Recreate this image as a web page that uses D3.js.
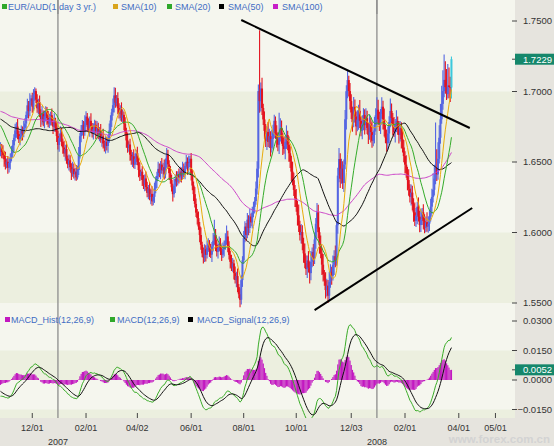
<!DOCTYPE html>
<html><head><meta charset="utf-8">
<script src="https://cdn.jsdelivr.net/npm/d3@7"></script>
<style>
html,body{margin:0;padding:0;background:#fff;}
svg{display:block;font-family:"Liberation Sans",Arial,sans-serif;}
</style></head><body>
<svg id="chart" width="554" height="446"></svg>
<script>
// EUR/AUD daily bars, 26 Oct 2006 - 26 Mar 2008
const firstDate = "2006-10-26";
const lastDate = "2008-03-26";
const axisEndDate = "2008-06-20";

// closes before the first drawn bar (warm-up for the moving averages and MACD)
const priorCloses = [
1.6882,1.6913,1.6951,1.6922,1.6894,1.6861,1.6903,1.6942,1.6973,1.6931,
1.6902,1.6874,1.6843,1.6881,1.6922,1.6963,1.6991,1.7012,1.6972,1.6933,
1.6901,1.6862,1.6893,1.6931,1.6952,1.6914,1.6883,1.6852,1.6891,1.6922,
1.6951,1.6983,1.6942,1.6903,1.6871,1.6842,1.6873,1.6912,1.6944,1.6921,
1.6893,1.6862,1.6901,1.6943,1.6972,1.6931,1.6902,1.6881,1.6923,1.6954,
1.6982,1.6951,1.6913,1.6884,1.6852,1.6891,1.6932,1.6963,1.6921,1.6882,
1.6851,1.6823,1.6862,1.6841,1.6803,1.6782,1.6821,1.6863,1.6832,1.6791,
1.6762,1.6801,1.6843,1.6872,1.6831,1.6802,1.6841,1.6883,1.6852,1.6813,
1.6784,1.6822,1.6861,1.6832,1.6803,1.6841,1.6872,1.6851,1.6893,1.6862,
1.6881,1.6912,1.6873,1.6904,1.6941,1.6902,1.6863,1.6892,1.6921,1.6883,
1.6852,1.6823,1.6751,1.6693,1.6642,1.6583,1.6541,1.6512,1.6533,1.6571];

const closes = [
1.6602,1.6571,1.6548,1.6519,1.6483,1.6502,1.6459,1.6494,1.6531,1.6563,
1.6618,1.6672,1.6724,1.6751,1.6698,1.6662,1.6684,1.6723,1.6701,1.6742,
1.6773,1.6834,1.6902,1.6861,1.6933,1.6951,1.6893,1.6982,1.7003,1.6942,
1.6881,1.6924,1.6843,1.6801,1.6843,1.6782,1.6824,1.6861,1.6812,1.6773,
1.6804,1.6832,1.6783,1.6751,1.6792,1.6743,1.6684,1.6621,1.6672,1.6703,
1.6642,1.6603,1.6561,1.6592,1.6524,1.6483,1.6512,1.6463,1.6421,1.6452,
1.6414,1.6432,1.6391,1.6443,1.6552,1.6683,1.6721,1.6762,1.6713,1.6781,
1.6822,1.6763,1.6731,1.6792,1.6754,1.6702,1.6733,1.6764,1.6712,1.6741,
1.6692,1.6723,1.6661,1.6682,1.6631,1.6603,1.6642,1.6614,1.6662,1.6723,
1.6794,1.6852,1.6903,1.6972,1.6921,1.6953,1.6882,1.6841,1.6873,1.6812,
1.6834,1.6771,1.6712,1.6653,1.6601,1.6624,1.6552,1.6513,1.6541,1.6482,
1.6523,1.6562,1.6501,1.6443,1.6402,1.6431,1.6372,1.6341,1.6383,1.6322,
1.6281,1.6312,1.6253,1.6274,1.6221,1.6253,1.6312,1.6363,1.6402,1.6451,
1.6423,1.6482,1.6441,1.6463,1.6412,1.6503,1.6552,1.6483,1.6421,1.6372,
1.6321,1.6272,1.6333,1.6381,1.6362,1.6413,1.6391,1.6432,1.6403,1.6451,
1.6422,1.6473,1.6502,1.6461,1.6492,1.6523,1.6412,1.6333,1.6272,1.6203,
1.6141,1.6102,1.6043,1.5982,1.5913,1.5852,1.5823,1.5881,1.5842,1.5893,
1.5921,1.5872,1.5843,1.5901,1.5942,1.5983,1.5912,1.5863,1.5891,1.5922,
1.5871,1.5843,1.5882,1.5913,1.5941,1.5972,1.5903,1.5841,1.5792,1.5753,
1.5781,1.5712,1.5663,1.5691,1.5613,1.5562,1.5523,1.5662,1.5803,1.5961,
1.6042,1.5983,1.6091,1.6032,1.6113,1.6072,1.6141,1.6182,1.6223,1.6312,
1.6453,1.7003,1.6932,1.7021,1.6883,1.6802,1.6721,1.6652,1.6713,1.6642,
1.6683,1.6602,1.6663,1.6721,1.6792,1.6703,1.6662,1.6623,1.6682,1.6741,
1.6672,1.6613,1.6592,1.6643,1.6691,1.6623,1.6562,1.6503,1.6432,1.6371,
1.6302,1.6243,1.6181,1.6122,1.6053,1.5982,1.6003,1.5921,1.5852,1.5783,
1.5741,1.5802,1.5751,1.5712,1.5793,1.5862,1.5823,1.5951,1.6062,1.6143,
1.6002,1.5913,1.5851,1.5772,1.5703,1.5661,1.5592,1.5623,1.5552,1.5651,
1.5722,1.5693,1.5771,1.5832,1.5803,1.6052,1.6403,1.6521,1.6382,1.6453,
1.6351,1.6482,1.6803,1.7002,1.7081,1.7003,1.6932,1.6851,1.6782,1.6891,
1.6823,1.6752,1.6801,1.6863,1.6792,1.6721,1.6772,1.6833,1.6762,1.6811,
1.6742,1.6691,1.6773,1.6712,1.6651,1.6692,1.6763,1.6832,1.6871,1.6803,
1.6762,1.6841,1.6892,1.6803,1.6731,1.6672,1.6633,1.6702,1.6783,1.6862,
1.6812,1.6753,1.6711,1.6762,1.6791,1.6733,1.6692,1.6741,1.6662,1.6603,
1.6542,1.6481,1.6423,1.6372,1.6311,1.6252,1.6283,1.6202,1.6143,1.6082,
1.6121,1.6183,1.6112,1.6053,1.6092,1.6143,1.6081,1.6032,1.6073,1.6042,
1.6063,1.6112,1.6183,1.6252,1.6303,1.6382,1.6461,1.6412,1.6523,1.6672,
1.6803,1.6912,1.7003,1.7082,1.7031,1.6982,1.7043,1.7032,1.7028,1.7229];

const highs = [
1.6640,1.6627,1.6618,1.6579,1.6573,1.6524,1.6543,1.6529,1.6560,1.6613,
1.6656,1.6697,1.6771,1.6782,1.6805,1.6720,1.6725,1.6758,1.6752,1.6792,
1.6811,1.6859,1.6949,1.6933,1.6987,1.6973,1.6992,1.7017,1.7030,1.7021,
1.6980,1.6949,1.6971,1.6874,1.6897,1.6865,1.6865,1.6896,1.6890,1.6862,
1.6842,1.6857,1.6879,1.6814,1.6846,1.6814,1.6784,1.6719,1.6701,1.6753,
1.6741,1.6667,1.6650,1.6623,1.6646,1.6546,1.6553,1.6547,1.6492,1.6502,
1.6490,1.6457,1.6479,1.6474,1.6606,1.6705,1.6762,1.6797,1.6791,1.6831,
1.6860,1.6847,1.6810,1.6823,1.6846,1.6776,1.6774,1.6799,1.6793,1.6791,
1.6779,1.6748,1.6770,1.6713,1.6736,1.6653,1.6683,1.6677,1.6691,1.6773,
1.6832,1.6877,1.6950,1.7030,1.7026,1.6975,1.6994,1.6917,1.6902,1.6923,
1.6872,1.6859,1.6818,1.6743,1.6707,1.6646,1.6665,1.6587,1.6570,1.6591,
1.6561,1.6587,1.6609,1.6532,1.6497,1.6453,1.6472,1.6407,1.6412,1.6433,
1.6360,1.6337,1.6359,1.6305,1.6328,1.6275,1.6353,1.6398,1.6431,1.6501,
1.6489,1.6507,1.6529,1.6494,1.6517,1.6525,1.6600,1.6587,1.6512,1.6471,
1.6410,1.6346,1.6380,1.6412,1.6435,1.6435,1.6454,1.6467,1.6461,1.6501,
1.6489,1.6498,1.6549,1.6533,1.6546,1.6545,1.6564,1.6447,1.6362,1.6322,
1.6241,1.6166,1.6149,1.6074,1.6036,1.5935,1.5893,1.5916,1.5910,1.5943,
1.5959,1.5946,1.5919,1.5932,1.5996,1.6090,1.6024,1.5947,1.5920,1.5972,
1.5960,1.5896,1.5929,1.5944,1.5995,1.6050,1.6013,1.5938,1.5870,1.5842,
1.5819,1.5806,1.5759,1.5722,1.5745,1.5635,1.5603,1.5697,1.5832,1.6011,
1.6080,1.6067,1.6138,1.6122,1.6167,1.6135,1.6182,1.6217,1.6252,1.6362,
1.6506,1.7050,1.7435,1.7064,1.7097,1.6914,1.6859,1.6770,1.6754,1.6783,
1.6736,1.6718,1.6729,1.6764,1.6835,1.6823,1.6760,1.6711,1.6850,1.6811,
1.6794,1.6707,1.6679,1.6686,1.6760,1.6722,1.6680,1.6611,1.6544,1.6502,
1.6424,1.6337,1.6309,1.6224,1.6198,1.6084,1.6060,1.6052,1.5962,1.5922,
1.5836,1.5837,1.5868,1.5794,1.5869,1.5893,1.5919,1.6000,1.6103,1.6210,
1.6196,1.6037,1.5979,1.5894,1.5848,1.5734,1.5718,1.5672,1.5664,1.5721,
1.5775,1.5757,1.5837,1.5875,1.5908,1.6083,1.6460,1.6600,1.6562,1.6523,
1.6506,1.6517,1.6869,1.7045,1.7150,1.7112,1.7060,1.6981,1.6892,1.6961,
1.6944,1.6858,1.6867,1.6906,1.6939,1.6823,1.6829,1.6882,1.6874,1.6881,
1.6864,1.6777,1.6839,1.6816,1.6788,1.6723,1.6820,1.6881,1.6960,1.6941,
1.6856,1.6876,1.6960,1.6935,1.6879,1.6762,1.6729,1.6751,1.6824,1.6950,
1.6915,1.6847,1.6819,1.6805,1.6867,1.6822,1.6790,1.6790,1.6782,1.6732,
1.6656,1.6577,1.6547,1.6466,1.6448,1.6342,1.6340,1.6332,1.6243,1.6213,
1.6174,1.6218,1.6249,1.6155,1.6168,1.6174,1.6200,1.6130,1.6114,1.6143,
1.6116,1.6160,1.6240,1.6310,1.6420,1.6480,1.6780,1.6590,1.6640,1.6760,
1.6912,1.7040,1.7150,1.7262,1.7215,1.7160,1.7195,1.7170,1.7105,1.7248];

const lows = [
1.6540,1.6526,1.6524,1.6467,1.6447,1.6455,1.6416,1.6426,1.6446,1.6505,
1.6532,1.6573,1.6648,1.6672,1.6662,1.6634,1.6619,1.6651,1.6653,1.6675,
1.6711,1.6728,1.6810,1.6809,1.6825,1.6905,1.6850,1.6860,1.6934,1.6916,
1.6850,1.6836,1.6819,1.6749,1.6765,1.6754,1.6739,1.6791,1.6764,1.6747,
1.6742,1.6759,1.6759,1.6699,1.6715,1.6715,1.6641,1.6588,1.6573,1.6646,
1.6611,1.6558,1.6537,1.6509,1.6488,1.6455,1.6440,1.6430,1.6373,1.6395,
1.6383,1.6369,1.6367,1.6375,1.6407,1.6524,1.6640,1.6688,1.6665,1.6687,
1.6750,1.6718,1.6707,1.6679,1.6718,1.6674,1.6659,1.6700,1.6664,1.6686,
1.6661,1.6647,1.6637,1.6609,1.6595,1.6575,1.6560,1.6581,1.6566,1.6636,
1.6692,1.6749,1.6828,1.6851,1.6885,1.6893,1.6839,1.6808,1.6793,1.6786,
1.6781,1.6726,1.6688,1.6601,1.6565,1.6573,1.6509,1.6480,1.6465,1.6456,
1.6451,1.6478,1.6477,1.6391,1.6366,1.6374,1.6329,1.6308,1.6293,1.6296,
1.6250,1.6236,1.6229,1.6201,1.6190,1.6193,1.6210,1.6279,1.6315,1.6376,
1.6392,1.6378,1.6417,1.6389,1.6376,1.6384,1.6460,1.6450,1.6373,1.6346,
1.6290,1.6220,1.6248,1.6281,1.6326,1.6334,1.6348,1.6358,1.6355,1.6377,
1.6391,1.6377,1.6449,1.6409,1.6425,1.6464,1.6369,1.6300,1.6224,1.6177,
1.6110,1.6057,1.6019,1.5930,1.5877,1.5824,1.5780,1.5790,1.5794,1.5816,
1.5862,1.5827,1.5819,1.5791,1.5865,1.5914,1.5869,1.5830,1.5815,1.5865,
1.5840,1.5798,1.5819,1.5830,1.5877,1.5913,1.5860,1.5808,1.5744,1.5727,
1.5722,1.5667,1.5639,1.5611,1.5577,1.5534,1.5470,1.5490,1.5614,1.5777,
1.5930,1.5938,1.5959,1.5980,1.5996,1.6044,1.6029,1.6108,1.6134,1.6197,
1.6269,1.6390,1.6850,1.6859,1.6833,1.6763,1.6661,1.6606,1.6585,1.6606,
1.6599,1.6539,1.6568,1.6590,1.6671,1.6664,1.6602,1.6577,1.6556,1.6646,
1.6629,1.6550,1.6558,1.6519,1.6593,1.6584,1.6502,1.6457,1.6365,1.6335,
1.6259,1.6180,1.6147,1.6049,1.6003,1.5943,1.5922,1.5875,1.5785,1.5747,
1.5698,1.5678,1.5717,1.5639,1.5662,1.5754,1.5763,1.5777,1.5884,1.6026,
1.5959,1.5850,1.5817,1.5699,1.5653,1.5622,1.5532,1.5546,1.5500,1.5516,
1.5608,1.5630,1.5659,1.5698,1.5753,1.5764,1.5992,1.6357,1.6315,1.6346,
1.6308,1.6288,1.6448,1.6730,1.6952,1.6964,1.6872,1.6805,1.6715,1.6746,
1.6780,1.6689,1.6718,1.6728,1.6742,1.6682,1.6661,1.6726,1.6695,1.6726,
1.6699,1.6628,1.6657,1.6639,1.6601,1.6612,1.6632,1.6717,1.6765,1.6767,
1.6719,1.6699,1.6807,1.6730,1.6681,1.6633,1.6573,1.6587,1.6635,1.6747,
1.6769,1.6690,1.6677,1.6638,1.6712,1.6694,1.6632,1.6646,1.6595,1.6567,
1.6499,1.6418,1.6389,1.6299,1.6261,1.6213,1.6192,1.6156,1.6076,1.6046,
1.6039,1.6058,1.6078,1.6002,1.6003,1.6053,1.6021,1.5995,1.6002,1.6006,
1.5999,1.6010,1.6078,1.6130,1.6212,1.6262,1.6342,1.6366,1.6375,1.6490,
1.6630,1.6771,1.6870,1.6960,1.6985,1.6940,1.6951,1.6952,1.6925,1.6950];

const smaPeriods = [10, 20, 50, 100];
const macdParams = [12, 26, 9];
const priceTicks = [1.55, 1.60, 1.65, 1.70, 1.75];
const macdTicks = [-0.015, 0, 0.015, 0.03];
const tickMonths = ["2006-12","2007-02","2007-04","2007-06","2007-08","2007-10","2007-12","2008-02","2008-04","2008-05"];
const yearStarts = ["2007-01-01", "2008-01-01"];
const trendLines = [
  [["2007-07-30", 1.7507], ["2008-04-10", 1.6741]],
  [["2007-10-22", 1.5450], ["2008-04-12", 1.6174]]
];
const priceLegend = ["EUR/AUD(1 day 3 yr.)", "SMA(10)", "SMA(20)", "SMA(50)", "SMA(100)"];
const macdLegend = ["MACD_Hist(12,26,9)", "MACD(12,26,9)", "MACD_Signal(12,26,9)"];

// ---- layout ----
const W = 554, H = 446;
const plotR = 515;
const mainTop = 0, mainBot = 313;
const macdTop = 313, macdBot = 418;
const col = {
  up: "#5566e2", down: "#e3141f", last: "#3cc8dc",
  sma: ["#e9ac0c", "#34ac2a", "#111111", "#cc44c8"],
  macd: "#3aac28", signal: "#111111", hist: "#c218c0",
  legendText: "#3f6cc3", axisText: "#333333",
  bandLight: "#f5f6ee", bandDark: "#ecefdf", frame: "#e6e4de"
};

// ---- time slots: trading days up to the last bar, calendar days afterwards ----
const parse = d3.utcParse("%Y-%m-%d");
const key = d3.utcFormat("%Y-%m-%d");
const slots = [];
for (let d = parse(firstDate), end = parse(lastDate), stop = parse(axisEndDate); d <= stop; d = d3.utcDay.offset(d, 1)) {
  const wd = d.getUTCDay();
  if (d > end || (wd !== 0 && wd !== 6)) slots.push(d);
}
const slotOf = new Map(slots.map((s, i) => [key(s), i]));

const x = d3.scaleLinear().domain([0, 421]).range([0.5, plotR]);
const y = d3.scaleLinear().domain([1.75, 1.55]).range([21, 303]);
const ym = d3.scaleLinear().domain([0.03, -0.015]).range([321, 409.5]);

// ---- indicators ----
const all = priorCloses.concat(closes);
const off = priorCloses.length;
const n = closes.length;
const smaSeries = smaPeriods.map(p => closes.map((_, i) => d3.mean(all.slice(i + off - p + 1, i + off + 1))));
function ema(arr, p) {
  const a = 2 / (p + 1), out = [];
  arr.forEach((v, k) => out.push(k ? a * v + (1 - a) * out[k - 1] : v));
  return out;
}
const e12 = ema(all, macdParams[0]), e26 = ema(all, macdParams[1]);
const macdAll = e12.map((v, k) => v - e26[k]);
const sigAll = ema(macdAll, macdParams[2]);
const macd = closes.map((_, i) => macdAll[i + off]);
const signal = closes.map((_, i) => sigAll[i + off]);
const hist = macd.map((v, i) => v - signal[i]);

// ---- drawing ----
const svg = d3.select("#chart");
svg.append("rect").attr("width", W).attr("height", H).attr("fill", col.frame);

const defs = svg.append("defs");
defs.append("clipPath").attr("id", "clipMain").append("rect").attr("x", 0).attr("y", mainTop).attr("width", plotR).attr("height", mainBot - mainTop);
defs.append("clipPath").attr("id", "clipMacd").append("rect").attr("x", 0).attr("y", macdTop).attr("width", plotR).attr("height", macdBot - macdTop);

// price panel background bands
svg.append("rect").attr("x", 0).attr("y", mainTop).attr("width", plotR).attr("height", mainBot - mainTop).attr("fill", col.bandLight);
const bandPairs = [[1.70, 1.65], [1.60, 1.55]];
svg.selectAll(".band").data(bandPairs).join("rect")
  .attr("x", 0).attr("width", plotR)
  .attr("y", d => y(d[0])).attr("height", d => y(d[1]) - y(d[0]))
  .attr("fill", col.bandDark);

// MACD panel background bands
svg.append("rect").attr("x", 0).attr("y", macdTop).attr("width", plotR).attr("height", macdBot - macdTop).attr("fill", col.bandLight);
const macdBands = [[0.015, 0], [-0.015, -0.03]];
svg.append("g").attr("clip-path", "url(#clipMacd)").selectAll("rect").data(macdBands).join("rect")
  .attr("x", 0).attr("width", plotR)
  .attr("y", d => ym(d[0])).attr("height", d => ym(d[1]) - ym(d[0]))
  .attr("fill", col.bandDark);

// year separators
const yearX = yearStarts.map(s => x(slotOf.get(s)));
svg.selectAll(".yr").data(yearX).join("line")
  .attr("x1", d => d).attr("x2", d => d).attr("y1", 0).attr("y2", macdBot)
  .attr("stroke", "#8c8c8c").attr("stroke-width", 1.3);

// candles
const bars = closes.map((c, i) => ({
  i, close: c, high: highs[i], low: lows[i],
  open: i ? closes[i - 1] : priorCloses[off - 1]
}));
const gMain = svg.append("g").attr("clip-path", "url(#clipMain)");
const barColor = d => d.i === n - 1 ? col.last : (d.close >= d.open ? col.up : col.down);
gMain.append("g").selectAll("line").data(bars).join("line")
  .attr("x1", d => x(d.i)).attr("x2", d => x(d.i))
  .attr("y1", d => y(Math.max(d.high, d.open, d.close)))
  .attr("y2", d => y(Math.min(d.low, d.open, d.close)))
  .attr("stroke", barColor).attr("stroke-width", 1.1);
gMain.append("g").selectAll("rect").data(bars).join("rect")
  .attr("x", d => x(d.i) - 1).attr("width", 2)
  .attr("y", d => y(Math.max(d.open, d.close)))
  .attr("height", d => Math.max(0.8, Math.abs(y(d.open) - y(d.close))))
  .attr("fill", barColor);

// moving averages
const lineGen = scaleY => d3.line().x((_, i) => x(i)).y(v => scaleY(v));
smaSeries.slice().reverse().forEach((s, k) => {
  const idx = smaSeries.length - 1 - k;
  gMain.append("path").attr("d", lineGen(y)(s)).attr("fill", "none")
    .attr("stroke", col.sma[idx]).attr("stroke-width", 1);
});

// trend lines
gMain.selectAll(".trend").data(trendLines).join("line")
  .attr("x1", d => x(slotOf.get(d[0][0]))).attr("y1", d => y(d[0][1]))
  .attr("x2", d => x(slotOf.get(d[1][0]))).attr("y2", d => y(d[1][1]))
  .attr("stroke", "#000").attr("stroke-width", 2);

// MACD panel
const gMacd = svg.append("g").attr("clip-path", "url(#clipMacd)");
gMacd.append("g").selectAll("rect").data(hist).join("rect")
  .attr("x", (_, i) => x(i) - 0.6).attr("width", 1.2)
  .attr("y", v => Math.min(ym(v), ym(0)))
  .attr("height", v => Math.abs(ym(v) - ym(0)))
  .attr("fill", col.hist);
gMacd.append("path").attr("d", lineGen(ym)(macd)).attr("fill", "none").attr("stroke", col.macd).attr("stroke-width", 1);
gMacd.append("path").attr("d", lineGen(ym)(signal)).attr("fill", "none").attr("stroke", col.signal).attr("stroke-width", 1);

// right axes
const fmt4 = d3.format(".4f");
function rightAxis(ticks, scale) {
  const g = svg.append("g");
  g.selectAll("line").data(ticks).join("line")
    .attr("x1", plotR - 3).attr("x2", plotR + 2).attr("y1", d => scale(d)).attr("y2", d => scale(d))
    .attr("stroke", "#444").attr("stroke-width", 1);
  g.selectAll("text").data(ticks).join("text")
    .attr("x", 552).attr("y", d => scale(d) + 3.3).attr("text-anchor", "end")
    .attr("font-size", 9.5).attr("fill", col.axisText)
    .text(d => fmt4(d));
}
rightAxis(priceTicks, y);
rightAxis(macdTicks, ym);

// last-value markers
function valueTag(v, scale) {
  const g = svg.append("g");
  g.append("line").attr("x1", plotR - 3).attr("x2", plotR).attr("y1", scale(v)).attr("y2", scale(v)).attr("stroke", "#444");
  g.append("rect").attr("x", plotR).attr("y", scale(v) - 5.5).attr("width", W - plotR).attr("height", 11).attr("fill", "#15876b");
  g.append("text").attr("x", 552).attr("y", scale(v) + 3.3).attr("text-anchor", "end")
    .attr("font-size", 9.5).attr("fill", "#fff").text(fmt4(v));
}
valueTag(closes[n - 1], y);
valueTag(hist[n - 1], ym);

// time axis
const monthTicks = tickMonths.map(m => {
  const [yy, mm] = m.split("-").map(Number);
  const i = slots.findIndex(s => s.getUTCFullYear() === yy && s.getUTCMonth() === mm - 1);
  return { i, date: slots[i] };
});
const fmtMD = d3.utcFormat("%m/%d");
const gx = svg.append("g");
gx.selectAll("line").data(monthTicks).join("line")
  .attr("x1", d => x(d.i)).attr("x2", d => x(d.i)).attr("y1", macdBot - 5).attr("y2", macdBot)
  .attr("stroke", "#444");
gx.selectAll("text").data(monthTicks).join("text")
  .attr("x", d => x(d.i)).attr("y", 431).attr("text-anchor", "middle")
  .attr("font-size", 9).attr("fill", col.axisText).text(d => fmtMD(d.date));
svg.selectAll(".yrlab").data(yearStarts).join("text")
  .attr("x", d => x(slotOf.get(d))).attr("y", 445).attr("text-anchor", "middle")
  .attr("font-size", 9).attr("fill", col.axisText).text(d => d.slice(0, 4));

// legends
function legend(items, colors, y0, xs, ts) {
  const g = svg.append("g");
  items.forEach((t, k) => {
    g.append("rect").attr("x", xs[k]).attr("y", y0 - 3).attr("width", 5).attr("height", 5).attr("fill", colors[k]);
    g.append("text").attr("x", ts[k]).attr("y", y0 + 2.5).attr("font-size", 9).attr("fill", col.legendText).text(t);
  });
}
legend(priceLegend, ["#2fa82a", "#d9a51c", "#2fa82a", "#000", "#c81ec8"], 7, [2, 113, 167, 219, 273], [8, 121, 175, 228, 282]);
legend(macdLegend, [col.hist, "#2fa82a", "#000"], 320, [5, 110, 188], [11, 117, 197]);

// redraw year separators over the legends
svg.selectAll(".yr2").data(yearX).join("line")
  .attr("x1", d => d).attr("x2", d => d).attr("y1", 0).attr("y2", 14)
  .attr("stroke", "#8c8c8c").attr("stroke-width", 1.3);

// site mark
svg.append("text").attr("x", 550).attr("y", 443).attr("text-anchor", "end")
  .attr("font-size", 11.5).attr("font-weight", "bold").attr("fill", "#d3d3d3")
  .text("www.forex.com.cn");
</script>
</body></html>
